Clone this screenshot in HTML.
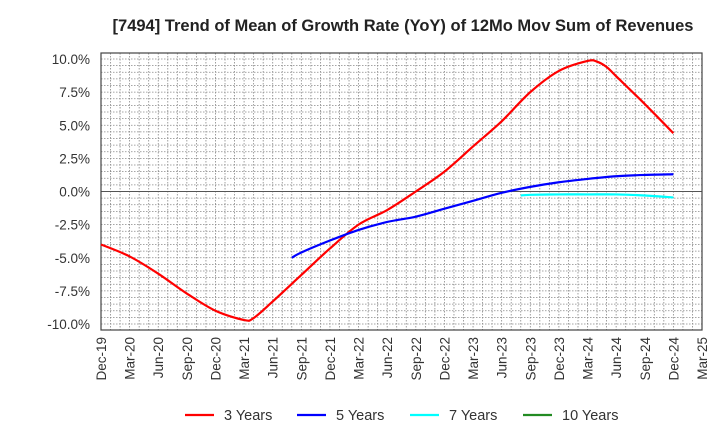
<!DOCTYPE html>
<html><head><meta charset="utf-8"><style>
body{margin:0;background:#fff;font-family:"Liberation Sans",Arial,sans-serif;}
svg text{font-family:"Liberation Sans",Arial,sans-serif;fill:#333;}
</style></head><body>
<svg id="chart" width="720" height="440" xmlns="http://www.w3.org/2000/svg">
<text x="403" y="31" text-anchor="middle" font-size="16.5" font-weight="bold" style="fill:#222">[7494]  Trend of Mean of Growth Rate (YoY) of 12Mo Mov Sum of Revenues</text>
<g id="grid"></g>
<g id="axes"></g>
<g id="series"></g>
<g id="legend"></g>
</svg>
<script>
const xTickLabels=["Dec-19","Mar-20","Jun-20","Sep-20","Dec-20","Mar-21","Jun-21","Sep-21","Dec-21","Mar-22","Jun-22","Sep-22","Dec-22","Mar-23","Jun-23","Sep-23","Dec-23","Mar-24","Jun-24","Sep-24","Dec-24","Mar-25"];
const yTicks=[10,7.5,5,2.5,0,-2.5,-5,-7.5,-10];
const yTickLabels=["10.0%","7.5%","5.0%","2.5%","0.0%","-2.5%","-5.0%","-7.5%","-10.0%"];
// month index from Dec-19
const s3Months=[0,3,6,9,12,15,16,18,21,24,27,30,33,36,39,42,45,48,51,52,53,54,57,60];
const s3Values=[-4.0,-4.9,-6.2,-7.7,-9.0,-9.7,-9.55,-8.3,-6.3,-4.3,-2.5,-1.4,0.0,1.5,3.4,5.3,7.5,9.1,9.85,9.8,9.4,8.7,6.6,4.4];
const s5Months=[20,21,24,27,30,33,36,39,42,45,48,51,54,57,60];
const s5Values=[-5.0,-4.6,-3.7,-2.9,-2.3,-1.9,-1.3,-0.7,-0.1,0.35,0.7,0.95,1.15,1.25,1.3];
const s7Months=[44,45,48,51,54,57,60];
const s7Values=[-0.3,-0.25,-0.22,-0.22,-0.22,-0.3,-0.45];
const s10Months=[];
const s10Values=[];

const L=101,R=702,T=53,B=330;
const X=m=>L+m*(R-L)/63;
const Y=v=>191.5-v*13.25;
const NS="http://www.w3.org/2000/svg";
function mk(tag,attrs,parent){const e=document.createElementNS(NS,tag);for(const k in attrs)e.setAttribute(k,attrs[k]);parent.appendChild(e);return e;}
const grid=document.getElementById('grid'),axes=document.getElementById('axes'),series=document.getElementById('series'),legend=document.getElementById('legend');
for(let m=1;m<63;m++){const l=mk('line',{x1:X(m),x2:X(m),y1:T,y2:B,stroke:'#888','stroke-width':0.8,'stroke-dasharray':'1.5,1.5'},grid);

}
for(let v=-10.5;v<=10.5;v+=0.5){const y=Y(v);if(y<T||y>B)continue;const l=mk('line',{x1:L,x2:R,y1:y,y2:y,stroke:'#888','stroke-width':0.8,'stroke-dasharray':'1.5,1.5'},grid);

}
const zl=mk('line',{x1:L,x2:R,y1:Y(0),y2:Y(0),stroke:'#555','stroke-width':1},grid);


const fr=mk('rect',{x:L,y:T,width:R-L,height:B-T,fill:'none',stroke:'#444','stroke-width':1.2},axes);


yTicks.forEach((v,i)=>{const t=mk('text',{x:L-11,y:Y(v)+5,'text-anchor':'end','font-size':13.5},axes);t.textContent=yTickLabels[i];

});
xTickLabels.forEach((s,i)=>{const x=X(i*3)+5;const t=mk('text',{x:0,y:0,'text-anchor':'end','font-size':13.5,transform:`translate(${x},${B+7}) rotate(-90)`},axes);t.textContent=s;

});
function path(ms,vs){if(!ms.length)return '';const p=ms.map((m,i)=>[X(m),Y(vs[i])]);let d=`M${p[0][0]},${p[0][1]}`;
for(let i=0;i<p.length-1;i++){const p0=p[i-1]||p[i],p1=p[i],p2=p[i+1],p3=p[i+2]||p2;
const c1=[p1[0]+(p2[0]-p0[0])/6,p1[1]+(p2[1]-p0[1])/6],c2=[p2[0]-(p3[0]-p1[0])/6,p2[1]-(p3[1]-p1[1])/6];
d+=` C${c1[0]},${c1[1]} ${c2[0]},${c2[1]} ${p2[0]},${p2[1]}`;}return d;}
const defs=[[s3Months,s3Values,'#ff0000','series-3-years','3 Years'],[s5Months,s5Values,'#0000ff','series-5-years','5 Years'],[s7Months,s7Values,'#00ffff','series-7-years','7 Years'],[s10Months,s10Values,'#228b22','series-10-years','10 Years']];
const lx=[185,297,410,523];
defs.forEach((d,i)=>{if(d[0].length){const p=mk('path',{d:path(d[0],d[1]),fill:'none',stroke:d[2],'stroke-width':2.2},series);

}
const g=mk('g',{},legend);


mk('line',{x1:lx[i],x2:lx[i]+29,y1:415,y2:415,stroke:d[2],'stroke-width':2.2},g);
const t=mk('text',{x:lx[i]+39,y:420,'font-size':14.5},g);t.textContent=d[4];});
</script>
</body></html>
